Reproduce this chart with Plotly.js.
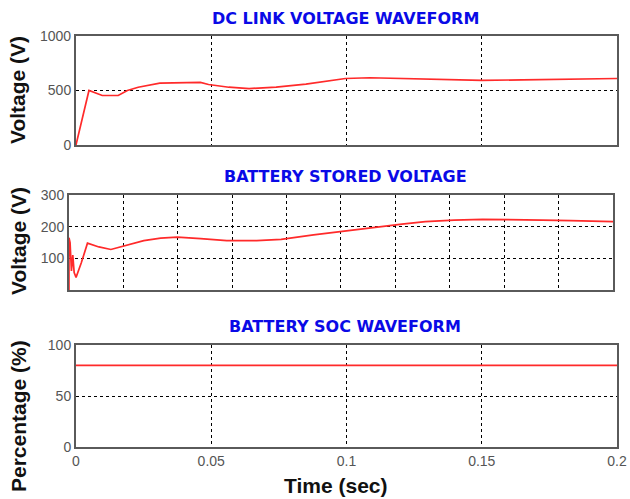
<!DOCTYPE html>
<html>
<head>
<meta charset="utf-8">
<script src="https://cdn.plot.ly/plotly-3.0.1.min.js"></script>
<style>html,body{margin:0;padding:0;background:#fff;}#chart{width:630px;height:499px;}</style>
</head>
<body>
<div id="chart"></div>
<script>
// DC link voltage (V) vs time (s)
const dcTime = [0, 0.0048, 0.0097, 0.0156, 0.019, 0.023, 0.031, 0.040, 0.046, 0.049, 0.0565, 0.064, 0.074, 0.085, 0.092, 0.0996, 0.1086, 0.120, 0.135, 0.150, 0.165, 0.180, 0.2];
const dcVolt = [0, 500, 454, 454, 500, 530, 568, 574, 574, 555, 530, 518, 530, 558, 583, 610, 617, 610, 598, 592, 598, 604, 610];

// Battery stored voltage (V) vs time (s)
const batTime = [0, 0, 0.0004, 0.0009, 0.0014, 0.0019, 0.0026, 0.0045, 0.0068, 0.0110, 0.0154, 0.0215, 0.0275, 0.0337, 0.0398, 0.0484, 0.058, 0.069, 0.078, 0.0899, 0.1017, 0.1135, 0.1224, 0.131, 0.1416, 0.152, 0.1638, 0.174, 0.1845, 0.2];
const batVolt = [0, 165, 150, 60, 110, 55, 40, 85, 148, 136, 128, 142, 156, 164, 167, 162, 156, 156, 160, 174, 187, 200, 208, 216, 221, 223, 223, 221, 219, 216];

// Battery state of charge (%) vs time (s)
const socTime = [0, 0.2];
const socPct = [80, 80];

const xTickVals = [0, 0.05, 0.1, 0.15, 0.2];
const xTickText = ['0', '0.05', '0.1', '0.15', '0.2'];
const xGrid2 = [0, 0.02, 0.04, 0.06, 0.08, 0.1, 0.12, 0.14, 0.16, 0.18, 0.2];

const panelTitles = ['DC LINK VOLTAGE WAVEFORM', 'BATTERY STORED VOLTAGE', 'BATTERY SOC WAVEFORM'];
const yTitles = ['Voltage (V)', 'Voltage (V)', 'Percentage (%)'];
const xTitle = 'Time (sec)';

const lineStyle = {color: '#ff2a2a', width: 1.7};
const traces = [
  {x: dcTime, y: dcVolt, xaxis: 'x', yaxis: 'y', mode: 'lines', line: lineStyle, hoverinfo: 'skip'},
  {x: batTime, y: batVolt, xaxis: 'x2', yaxis: 'y2', mode: 'lines', line: lineStyle, hoverinfo: 'skip'},
  {x: socTime, y: socPct, xaxis: 'x3', yaxis: 'y3', mode: 'lines', line: lineStyle, hoverinfo: 'skip'}
];

const tickFont = {family: 'Liberation Sans, Arial, sans-serif', size: 14, color: '#555'};
function ax(extra) {
  return Object.assign({
    showline: true, mirror: true, linecolor: '#5a5a5a', linewidth: 2,
    showgrid: true, gridcolor: '#000', gridwidth: 1, griddash: 'dot',
    zeroline: false, ticks: '', tickfont: tickFont, fixedrange: true
  }, extra);
}

const titleFont = {family: 'DejaVu Sans, Verdana, sans-serif', size: 16, color: '#0a0ae6'};
const yTitleFont = {family: 'Liberation Sans, Arial, sans-serif', size: 21, color: '#111'};

const layout = {
  width: 630, height: 499,
  margin: {l: 0, r: 0, t: 0, b: 0},
  paper_bgcolor: '#fff', plot_bgcolor: '#fff',
  showlegend: false,
  xaxis: ax({domain: [0.1206, 0.9794], anchor: 'y', range: [0, 0.2], tickvals: xTickVals, showticklabels: false}),
  yaxis: ax({domain: [0.7094, 0.9279], anchor: 'x', range: [0, 1000], tickvals: [0, 500, 1000], ticktext: ['0', '500', '1000']}),
  xaxis2: ax({domain: [0.1095, 0.973], anchor: 'y2', range: [0, 0.2], tickvals: xGrid2, showticklabels: false}),
  yaxis2: ax({domain: [0.4188, 0.6092], anchor: 'x2', range: [0, 300], tickvals: [100, 200, 300], ticktext: ['100', '200', '300']}),
  xaxis3: ax({domain: [0.1206, 0.9794], anchor: 'y3', range: [0, 0.2], tickvals: xTickVals, ticktext: xTickText}),
  yaxis3: ax({domain: [0.1042, 0.3086], anchor: 'x3', range: [0, 100], tickvals: [0, 50, 100], ticktext: ['0', '50', '100']}),
  annotations: [
    {text: '<b>' + panelTitles[0] + '</b>', xref: 'paper', yref: 'paper', x: 345/630, y: (499-18)/499, xanchor: 'center', yanchor: 'middle', showarrow: false, font: titleFont},
    {text: '<b>' + panelTitles[1] + '</b>', xref: 'paper', yref: 'paper', x: 345/630, y: (499-176)/499, xanchor: 'center', yanchor: 'middle', showarrow: false, font: titleFont},
    {text: '<b>' + panelTitles[2] + '</b>', xref: 'paper', yref: 'paper', x: 345/630, y: (499-326)/499, xanchor: 'center', yanchor: 'middle', showarrow: false, font: titleFont},
    {text: '<b>' + yTitles[0] + '</b>', xref: 'paper', yref: 'paper', x: 18/630, y: (499-90)/499, xanchor: 'center', yanchor: 'middle', textangle: -90, showarrow: false, font: yTitleFont},
    {text: '<b>' + yTitles[1] + '</b>', xref: 'paper', yref: 'paper', x: 18/630, y: (499-241)/499, xanchor: 'center', yanchor: 'middle', textangle: -90, showarrow: false, font: yTitleFont},
    {text: '<b>' + yTitles[2] + '</b>', xref: 'paper', yref: 'paper', x: 18/630, y: (499-416)/499, xanchor: 'center', yanchor: 'middle', textangle: -90, showarrow: false, font: yTitleFont},
    {text: '<b>' + xTitle + '</b>', xref: 'paper', yref: 'paper', x: 336/630, y: (499-485)/499, xanchor: 'center', yanchor: 'middle', showarrow: false, font: yTitleFont}
  ]
};

Plotly.newPlot('chart', traces, layout, {staticPlot: true, displayModeBar: false});
</script>
</body>
</html>
